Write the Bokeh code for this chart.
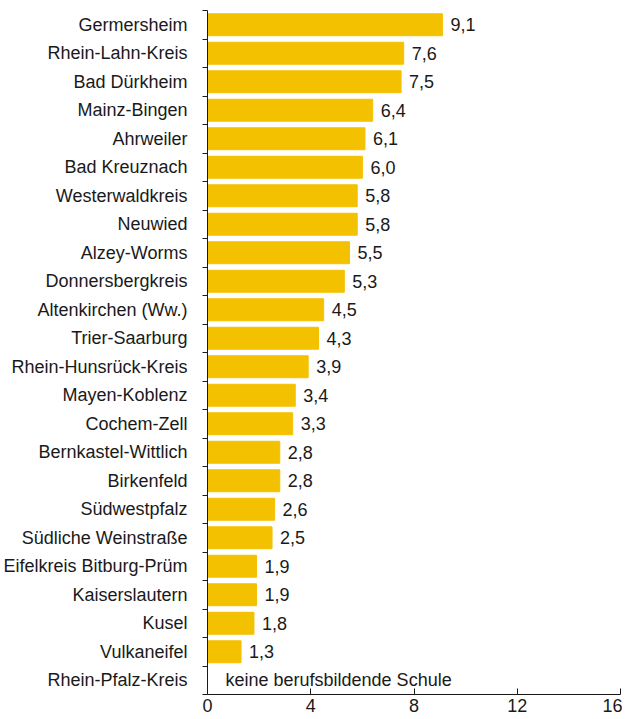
from bokeh.plotting import figure
from bokeh.models import ColumnDataSource, FixedTicker, Range1d
from bokeh.core.properties import value
from bokeh.embed import file_html
from bokeh.resources import INLINE
import math

categories = ["Germersheim", "Rhein-Lahn-Kreis", "Bad Dürkheim", "Mainz-Bingen", "Ahrweiler",
              "Bad Kreuznach", "Westerwaldkreis", "Neuwied", "Alzey-Worms", "Donnersbergkreis",
              "Altenkirchen (Ww.)", "Trier-Saarburg", "Rhein-Hunsrück-Kreis", "Mayen-Koblenz",
              "Cochem-Zell", "Bernkastel-Wittlich", "Birkenfeld", "Südwestpfalz",
              "Südliche Weinstraße", "Eifelkreis Bitburg-Prüm", "Kaiserslautern", "Kusel",
              "Vulkaneifel", "Rhein-Pfalz-Kreis"]
values = [9.1, 7.6, 7.5, 6.4, 6.1, 6.0, 5.8, 5.8, 5.5, 5.3, 4.5, 4.3, 3.9, 3.4, 3.3,
          2.8, 2.8, 2.6, 2.5, 1.9, 1.9, 1.8, 1.3, float("nan")]
note_text = "keine berufsbildende Schule"
x_ticks = [0, 4, 8, 12, 16]

FONT = "Liberation Sans"
FS = "18px"
COLOR = "#F4C100"

n = len(categories)
ypos = [n - i for i in range(n)]
labels = []
xs = []
offs = []
for v in values:
    if math.isnan(v):
        labels.append(note_text)
        xs.append(0)
        offs.append(18)
    else:
        labels.append(f"{v:.1f}".replace(".", ","))
        xs.append(v)
        offs.append(8)

src = ColumnDataSource(dict(y=ypos, v=values, x=xs, lab=labels, off=offs))

p = figure(width=622, height=719, output_backend="svg", toolbar_location=None,
           x_range=Range1d(0, 16), y_range=Range1d(0.5, n + 0.5),
           min_border_top=10, min_border_right=2, min_border_left=199,
           min_border_bottom=25)
p.outline_line_color = None
p.grid.grid_line_color = None

p.hbar(y="y", left=0, right="v", height=0.77, color=COLOR, source=src)
p.text(x="x", y="y", text="lab", source=src, x_offset="off", text_baseline="middle",
       text_align="left", text_font=value(FONT), text_font_size=FS, text_color="#1a1a1a")

p.xaxis.ticker = FixedTicker(ticks=x_ticks)
p.xaxis.major_tick_in = 6
p.xaxis.major_tick_out = 0
p.xaxis.minor_tick_line_color = None
p.xaxis.axis_line_color = "#1a1a1a"
p.xaxis.major_tick_line_color = "#1a1a1a"
p.xaxis.major_label_text_font = FONT
p.xaxis.major_label_text_font_size = FS
p.xaxis.major_label_text_color = "#1a1a1a"
p.xaxis.major_label_standoff = 4

p.yaxis.ticker = FixedTicker(ticks=ypos, minor_ticks=[k + 0.5 for k in range(n + 1)])
p.yaxis.major_label_overrides = {y: c for y, c in zip(ypos, categories)}
p.yaxis.major_tick_in = 0
p.yaxis.major_tick_out = 0
p.yaxis.minor_tick_in = 0
p.yaxis.minor_tick_out = 5
p.yaxis.minor_tick_line_color = "#1a1a1a"
p.yaxis.axis_line_color = "#1a1a1a"
p.yaxis.major_label_text_font = FONT
p.yaxis.major_label_text_font_size = FS
p.yaxis.major_label_text_color = "#1a1a1a"
p.yaxis.major_label_standoff = 15

open("out.html", "w").write(file_html(p, INLINE))
